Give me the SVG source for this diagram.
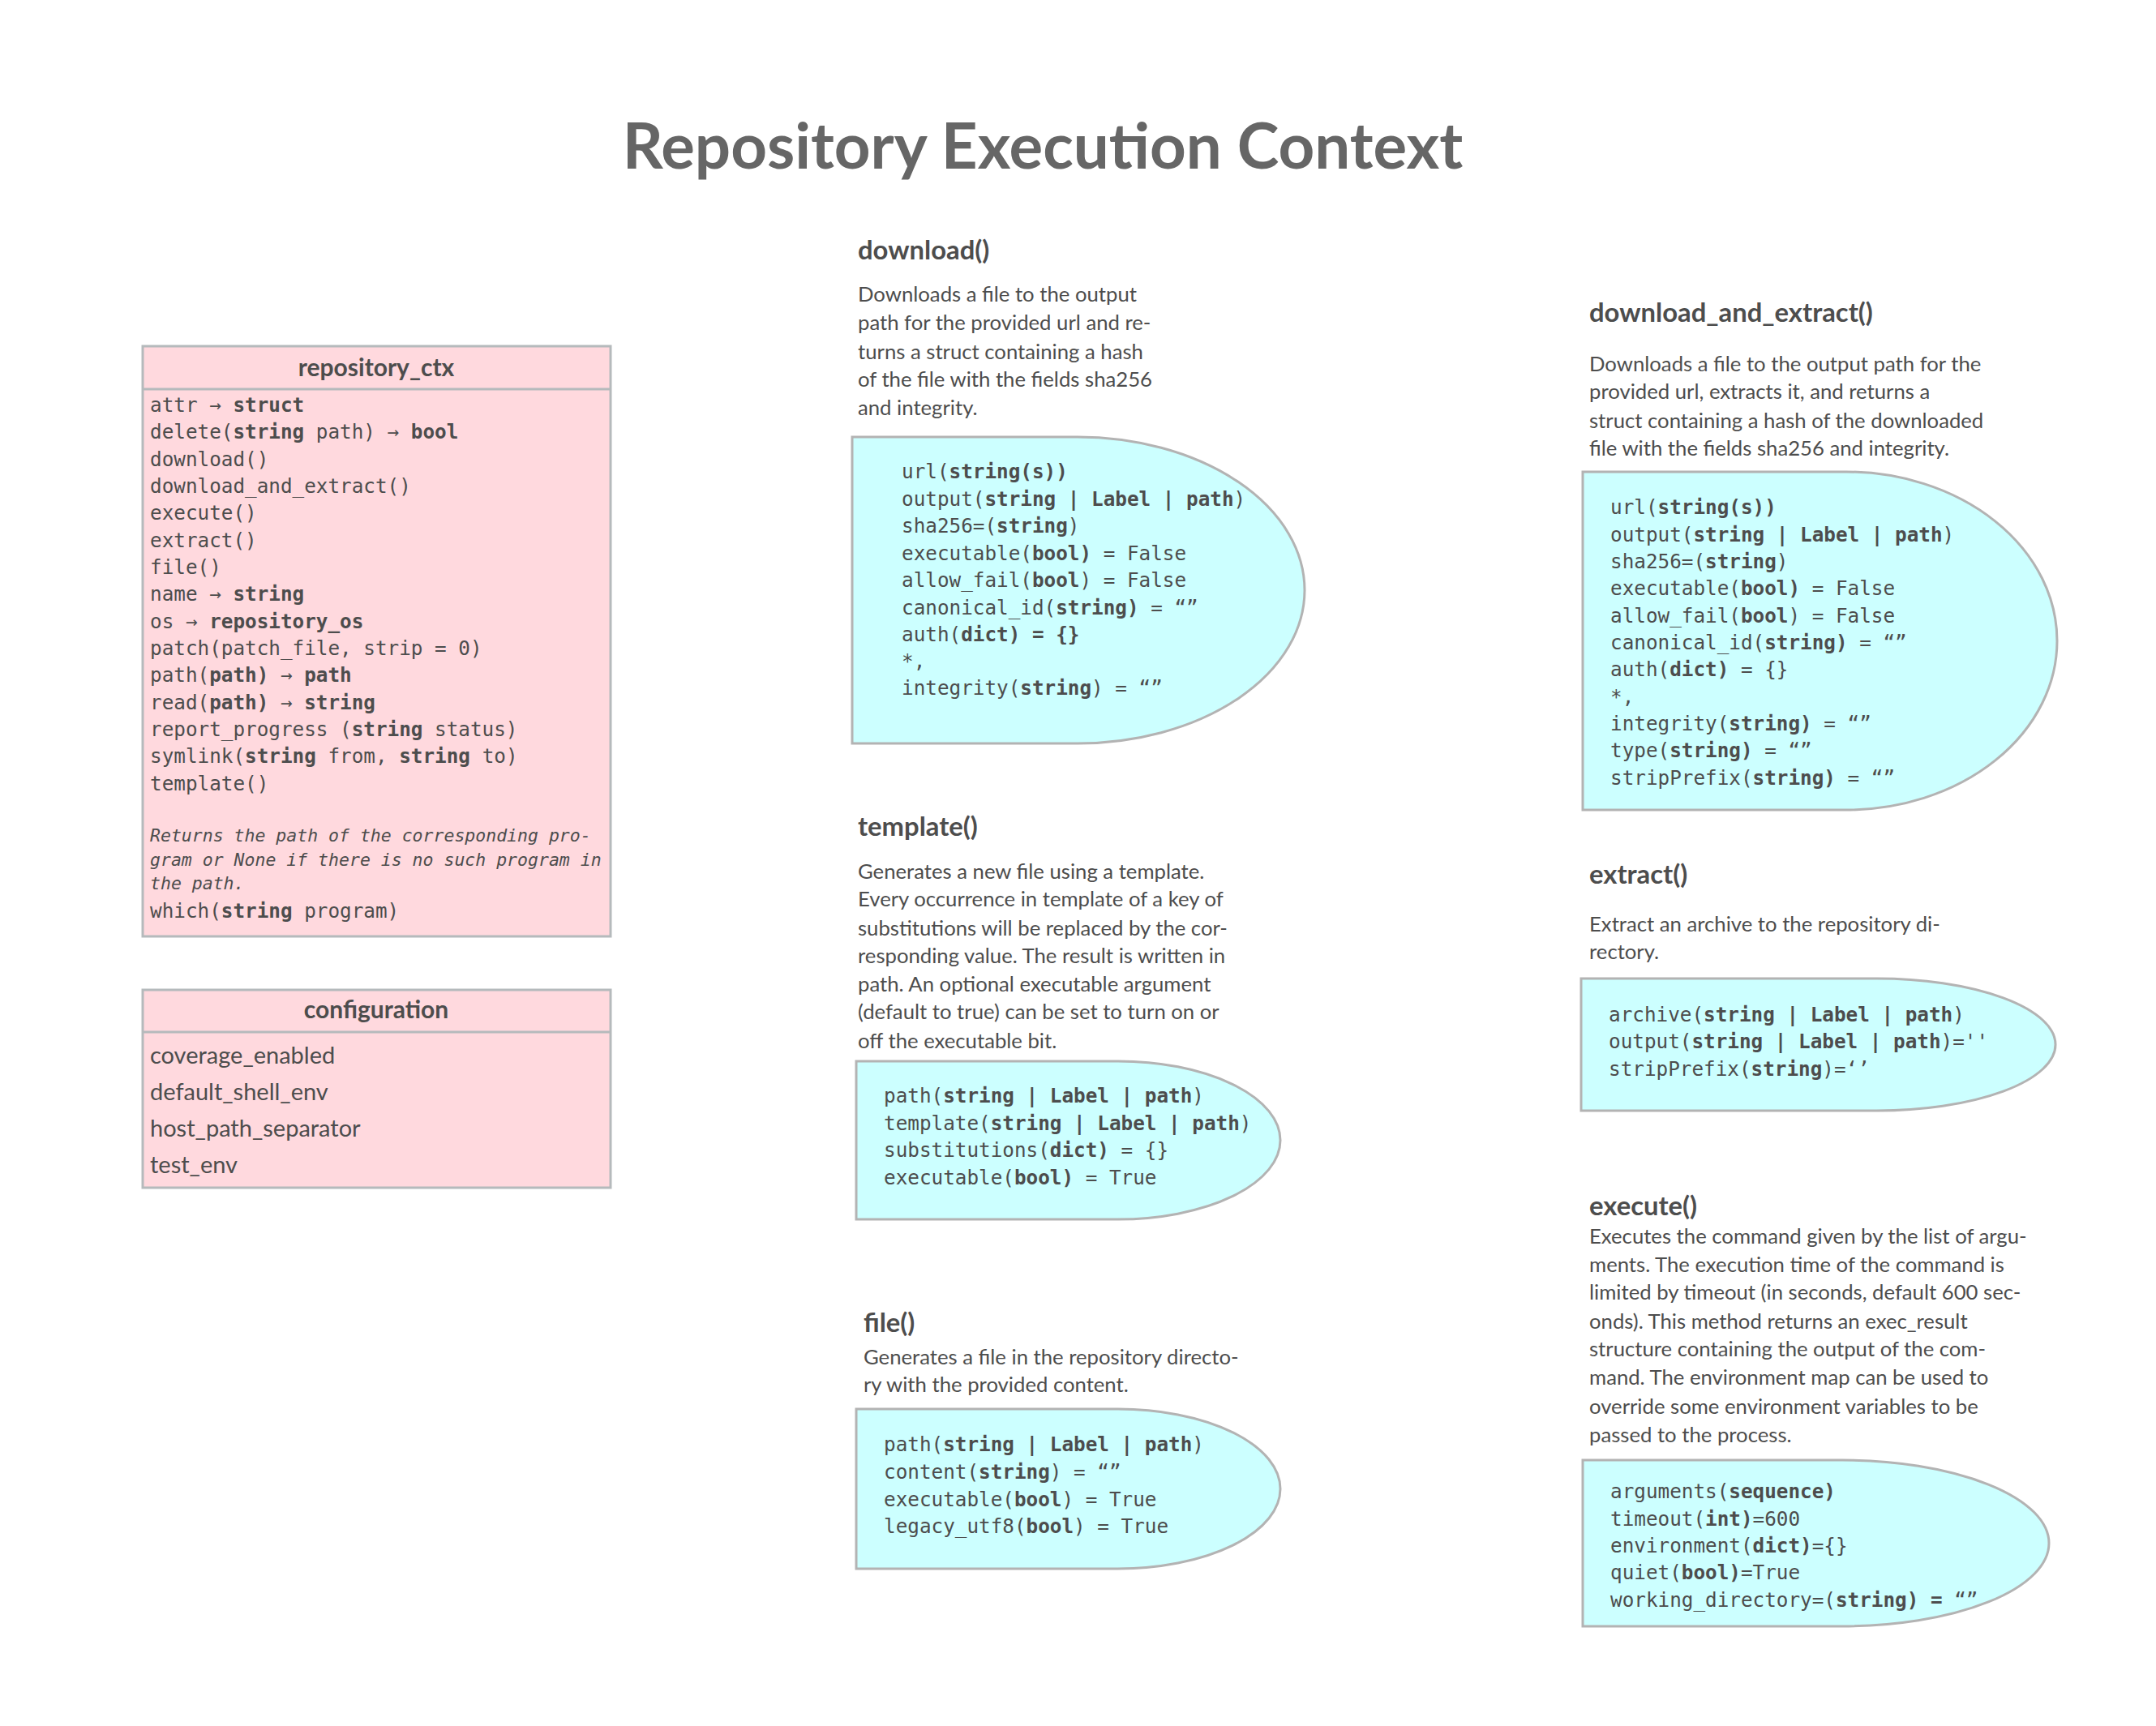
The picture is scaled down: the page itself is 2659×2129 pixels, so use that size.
<svg xmlns="http://www.w3.org/2000/svg" width="2659" height="2129" viewBox="0 0 2659 2129">
<style>
.bg{fill:#ffffff}
.cls{fill:#FFD9DE;stroke:#B5BABC;stroke-width:3}
.code{fill:#CCFFFF;stroke:#B3B3B3;stroke-width:3}
.mono{font-family:"DejaVu Sans Mono","Liberation Mono",monospace;font-size:24.3px;fill:#4D4D4D}
.it{font-family:"DejaVu Sans Mono","Liberation Mono",monospace;font-size:21.5px;font-style:italic;fill:#4D4D4D}
.b{font-weight:bold}
.title{font-family:Lato,"Open Sans",sans-serif;font-size:78px;font-weight:bold;fill:#666666}
.h{font-family:Lato,"Open Sans",sans-serif;font-size:32.8px;font-weight:bold;fill:#4D4D4D}
.d{font-family:Lato,"Open Sans",sans-serif;font-size:25.7px;fill:#4D4D4D}
.ch{font-family:Lato,"Open Sans",sans-serif;font-size:30px;font-weight:bold;fill:#4D4D4D}
.ci{font-family:Lato,"Open Sans",sans-serif;font-size:29px;fill:#4D4D4D}
</style>
<rect class="bg" x="0" y="0" width="2659" height="2129"/>
<text class="title" x="1286" y="208" text-anchor="middle">Repository Execution Context</text>

<g id="repository_ctx">
<rect class="cls" x="176" y="427" width="577" height="728"/>
<line x1="176" y1="480" x2="753" y2="480" stroke="#B5BABC" stroke-width="3"/>
<text class="ch" x="464" y="464" text-anchor="middle">repository_ctx</text>
<text class="mono" x="185" y="508">attr → <tspan class="b">struct</tspan></text>
<text class="mono" x="185" y="541">delete(<tspan class="b">string</tspan> path) → <tspan class="b">bool</tspan></text>
<text class="mono" x="185" y="575">download()</text>
<text class="mono" x="185" y="608">download_and_extract()</text>
<text class="mono" x="185" y="641">execute()</text>
<text class="mono" x="185" y="675">extract()</text>
<text class="mono" x="185" y="708">file()</text>
<text class="mono" x="185" y="741">name → <tspan class="b">string</tspan></text>
<text class="mono" x="185" y="775">os → <tspan class="b">repository_os</tspan></text>
<text class="mono" x="185" y="808">patch(patch_file, strip = 0)</text>
<text class="mono" x="185" y="841">path(<tspan class="b">path)</tspan> → <tspan class="b">path</tspan></text>
<text class="mono" x="185" y="875">read(<tspan class="b">path)</tspan> → <tspan class="b">string</tspan></text>
<text class="mono" x="185" y="908">report_progress (<tspan class="b">string</tspan> status)</text>
<text class="mono" x="185" y="941">symlink(<tspan class="b">string</tspan> from, <tspan class="b">string</tspan> to)</text>
<text class="mono" x="185" y="975">template()</text>
<text class="it" x="185" y="1038">Returns the path of the corresponding pro-</text>
<text class="it" x="185" y="1068">gram or None if there is no such program in</text>
<text class="it" x="185" y="1097">the path.</text>
<text class="mono" x="185" y="1132">which(<tspan class="b">string</tspan> program)</text>
</g>

<g id="configuration">
<rect class="cls" x="176" y="1221" width="577" height="244"/>
<line x1="176" y1="1273" x2="753" y2="1273" stroke="#B5BABC" stroke-width="3"/>
<text class="ch" x="464" y="1256" text-anchor="middle">configuration</text>
<text class="ci" x="185" y="1312">coverage_enabled</text>
<text class="ci" x="185" y="1357">default_shell_env</text>
<text class="ci" x="185" y="1402">host_path_separator</text>
<text class="ci" x="185" y="1447">test_env</text>
</g>

<g id="download">
<text class="h" x="1058" y="320">download()</text>
<text class="d" x="1058" y="372">Downloads a file to the output</text>
<text class="d" x="1058" y="407">path for the provided url and re-</text>
<text class="d" x="1058" y="443">turns a struct containing a hash</text>
<text class="d" x="1058" y="477">of the file with the fields sha256</text>
<text class="d" x="1058" y="512">and integrity.</text>
<path class="code" d="M1051,539 H1329 A280,189 0 0 1 1329,917 H1051 Z"/>
<text class="mono" x="1112" y="590">url(<tspan class="b">string(s))</tspan></text>
<text class="mono" x="1112" y="624">output(<tspan class="b">string | Label | path</tspan>)</text>
<text class="mono" x="1112" y="657">sha256=(<tspan class="b">string</tspan>)</text>
<text class="mono" x="1112" y="691">executable(<tspan class="b">bool)</tspan> = False</text>
<text class="mono" x="1112" y="724">allow_fail(<tspan class="b">bool</tspan>) = False</text>
<text class="mono" x="1112" y="758">canonical_id(<tspan class="b">string)</tspan> = “”</text>
<text class="mono" x="1112" y="791">auth(<tspan class="b">dict) = {}</tspan></text>
<text class="mono" x="1112" y="824">*,</text>
<text class="mono" x="1112" y="857">integrity(<tspan class="b">string</tspan>) = “”</text>
</g>

<g id="template">
<text class="h" x="1058" y="1031">template()</text>
<text class="d" x="1058" y="1084">Generates a new file using a template.</text>
<text class="d" x="1058" y="1118">Every occurrence in template of a key of</text>
<text class="d" x="1058" y="1154">substitutions will be replaced by the cor-</text>
<text class="d" x="1058" y="1188">responding value. The result is written in</text>
<text class="d" x="1058" y="1223">path. An optional executable argument</text>
<text class="d" x="1058" y="1257">(default to true) can be set to turn on or</text>
<text class="d" x="1058" y="1293">off the executable bit.</text>
<path class="code" d="M1056,1309 H1379 A200,97.5 0 0 1 1379,1504 H1056 Z"/>
<text class="mono" x="1090" y="1360">path(<tspan class="b">string | Label | path</tspan>)</text>
<text class="mono" x="1090" y="1394">template(<tspan class="b">string | Label | path</tspan>)</text>
<text class="mono" x="1090" y="1427">substitutions(<tspan class="b">dict)</tspan> = {}</text>
<text class="mono" x="1090" y="1461">executable(<tspan class="b">bool)</tspan> = True</text>
</g>

<g id="file">
<text class="h" x="1065" y="1643">file()</text>
<text class="d" x="1065" y="1683">Generates a file in the repository directo-</text>
<text class="d" x="1065" y="1717">ry with the provided content.</text>
<path class="code" d="M1056,1738 H1379 A200,98.5 0 0 1 1379,1935 H1056 Z"/>
<text class="mono" x="1090" y="1790">path(<tspan class="b">string | Label | path</tspan>)</text>
<text class="mono" x="1090" y="1824">content(<tspan class="b">string</tspan>) = “”</text>
<text class="mono" x="1090" y="1858">executable(<tspan class="b">bool</tspan>) = True</text>
<text class="mono" x="1090" y="1891">legacy_utf8(<tspan class="b">bool</tspan>) = True</text>
</g>

<g id="download_and_extract">
<text class="h" x="1960" y="397">download_and_extract()</text>
<text class="d" x="1960" y="458">Downloads a file to the output path for the</text>
<text class="d" x="1960" y="492">provided url, extracts it, and returns a</text>
<text class="d" x="1960" y="528">struct containing a hash of the downloaded</text>
<text class="d" x="1960" y="562">file with the fields sha256 and integrity.</text>
<path class="code" d="M1952,582 H2277 A260,208.5 0 0 1 2277,999 H1952 Z"/>
<text class="mono" x="1986" y="634">url(<tspan class="b">string(s))</tspan></text>
<text class="mono" x="1986" y="668">output(<tspan class="b">string | Label | path</tspan>)</text>
<text class="mono" x="1986" y="701">sha256=(<tspan class="b">string</tspan>)</text>
<text class="mono" x="1986" y="734">executable(<tspan class="b">bool)</tspan> = False</text>
<text class="mono" x="1986" y="768">allow_fail(<tspan class="b">bool</tspan>) = False</text>
<text class="mono" x="1986" y="801">canonical_id(<tspan class="b">string)</tspan> = “”</text>
<text class="mono" x="1986" y="834">auth(<tspan class="b">dict)</tspan> = {}</text>
<text class="mono" x="1986" y="868">*,</text>
<text class="mono" x="1986" y="901">integrity(<tspan class="b">string)</tspan> = “”</text>
<text class="mono" x="1986" y="934">type(<tspan class="b">string)</tspan> = “”</text>
<text class="mono" x="1986" y="968">stripPrefix(<tspan class="b">string)</tspan> = “”</text>
</g>

<g id="extract">
<text class="h" x="1960" y="1090">extract()</text>
<text class="d" x="1960" y="1149">Extract an archive to the repository di-</text>
<text class="d" x="1960" y="1183">rectory.</text>
<path class="code" d="M1950,1207 H2315 A220,81.5 0 0 1 2315,1370 H1950 Z"/>
<text class="mono" x="1984" y="1260">archive(<tspan class="b">string | Label | path</tspan>)</text>
<text class="mono" x="1984" y="1293">output(<tspan class="b">string | Label | path</tspan>)=''</text>
<text class="mono" x="1984" y="1327">stripPrefix(<tspan class="b">string</tspan>)=‘’</text>
</g>

<g id="execute">
<text class="h" x="1960" y="1499">execute()</text>
<text class="d" x="1960" y="1534">Executes the command given by the list of argu-</text>
<text class="d" x="1960" y="1569">ments. The execution time of the command is</text>
<text class="d" x="1960" y="1603">limited by timeout (in seconds, default 600 sec-</text>
<text class="d" x="1960" y="1639">onds). This method returns an exec_result</text>
<text class="d" x="1960" y="1673">structure containing the output of the com-</text>
<text class="d" x="1960" y="1708">mand. The environment map can be used to</text>
<text class="d" x="1960" y="1744">override some environment variables to be</text>
<text class="d" x="1960" y="1779">passed to the process.</text>
<path class="code" d="M1952,1801 H2272 A255,102.5 0 0 1 2272,2006 H1952 Z"/>
<text class="mono" x="1986" y="1848">arguments(<tspan class="b">sequence)</tspan></text>
<text class="mono" x="1986" y="1882">timeout(<tspan class="b">int)</tspan>=600</text>
<text class="mono" x="1986" y="1915">environment(<tspan class="b">dict)</tspan>={}</text>
<text class="mono" x="1986" y="1948">quiet(<tspan class="b">bool)</tspan>=True</text>
<text class="mono" x="1986" y="1982">working_directory=(<tspan class="b">string) =</tspan> “”</text>
</g>

<g id="connectors"></g>
</svg>
